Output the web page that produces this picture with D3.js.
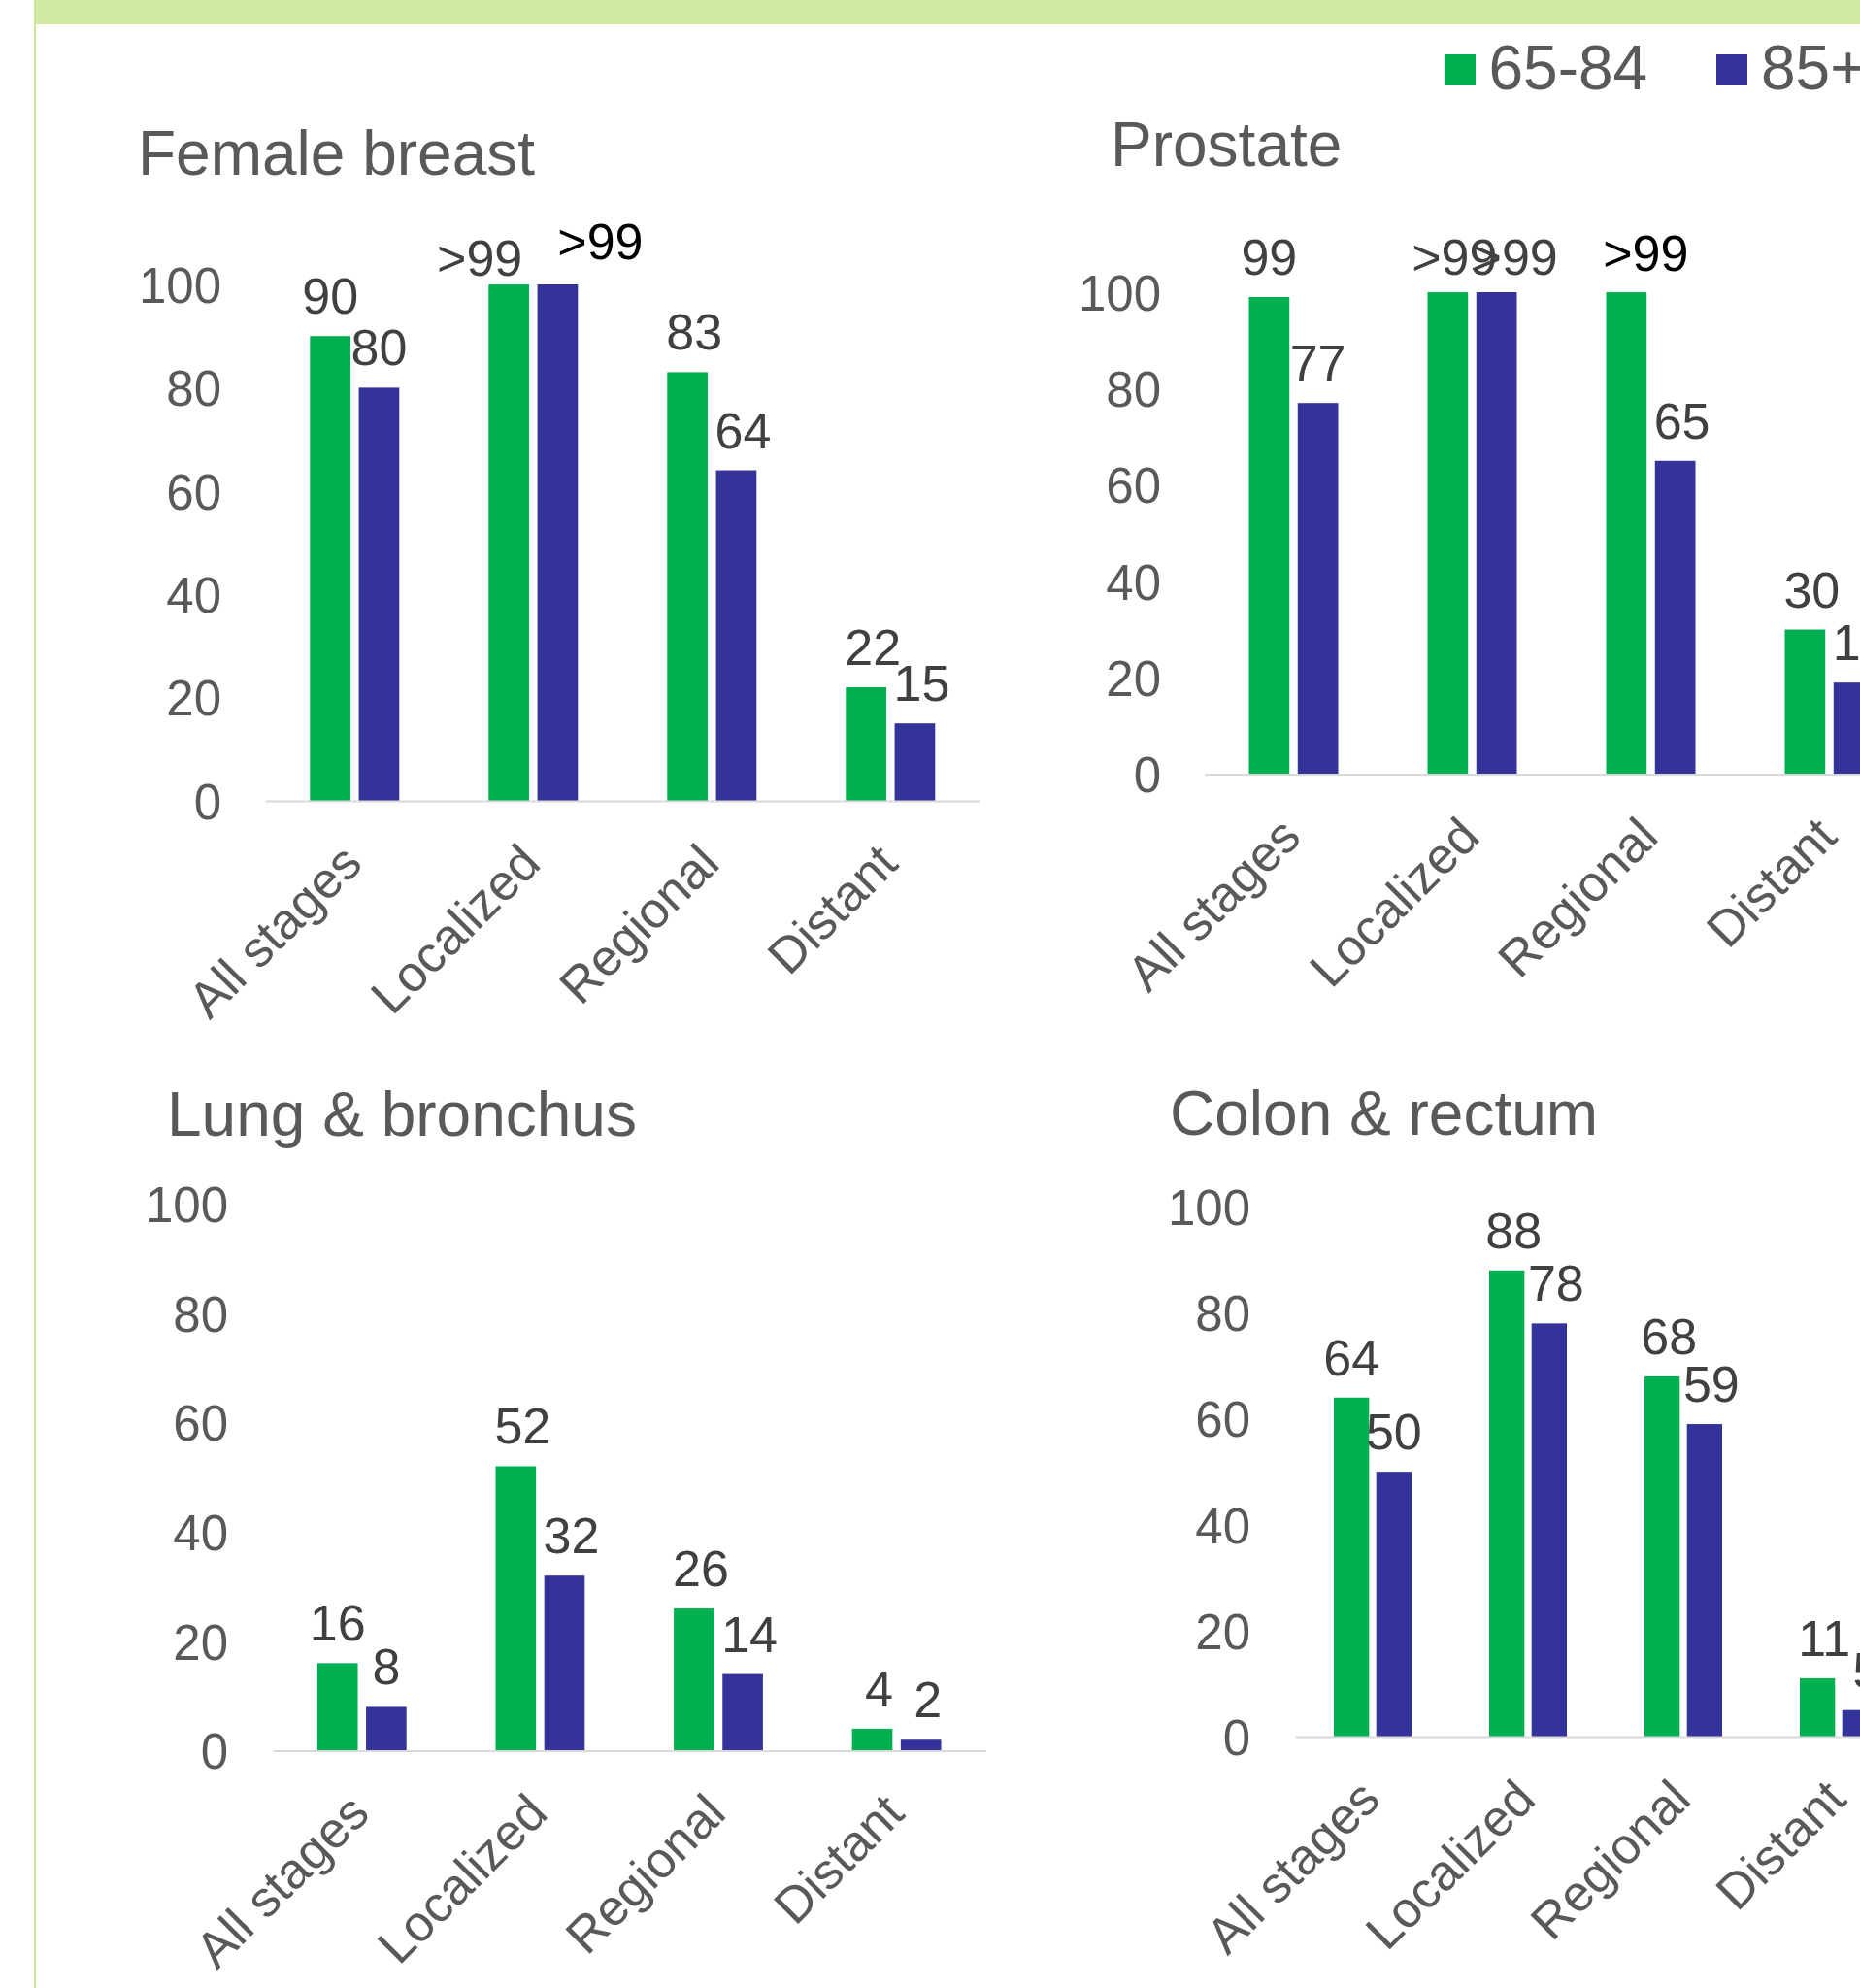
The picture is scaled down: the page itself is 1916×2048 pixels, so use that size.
<!DOCTYPE html>
<html><head><meta charset="utf-8">
<script src="https://cdn.jsdelivr.net/npm/d3@7"></script>
<style>html,body{margin:0;padding:0;background:#fff;} svg{display:block;}</style>
</head><body>
<svg id="chart" width="1916" height="2048"></svg>
<script>
// ---------- data ----------
const categories = ["All stages", "Localized", "Regional", "Distant"];
const seriesNames = ["65-84", "85+"];
const yTicks = [0, 20, 40, 60, 80, 100];
const panelTitles = ["Female breast", "Prostate", "Lung & bronchus", "Colon & rectum"];
const breast6584 = [90, 100, 83, 22];
const breast85 = [80, 100, 64, 15];
const prostate6584 = [99, 100, 100, 30];
const prostate85 = [77, 100, 65, 19];
const lung6584 = [16, 52, 26, 4];
const lung85 = [8, 32, 14, 2];
const colon6584 = [64, 88, 68, 11];
const colon85 = [50, 78, 59, 5];
const panelData = [[breast6584, breast85], [prostate6584, prostate85], [lung6584, lung85], [colon6584, colon85]];
const fmt = v => v >= 100 ? ">99" : String(v);

// ---------- style / layout ----------
const colors = ["#00b050", "#333399"];
const FONT = "'Liberation Sans', Arial, Helvetica, sans-serif";
const layouts = [
  {titleX: 142, titleY: 180, xStart: 273.3, xEnd: 1009.3, y0: 825, y100: 293, tickRight: 228},
  {titleX: 1144, titleY: 171, xStart: 1240.5, xEnd: 1976.5, y0: 797.5, y100: 301, tickRight: 1196},
  {titleX: 172, titleY: 1170, xStart: 281, xEnd: 1015.4, y0: 1803.5, y100: 1240, tickRight: 235},
  {titleX: 1205, titleY: 1169, xStart: 1334, xEnd: 1974, y0: 1789, y100: 1243.3, tickRight: 1288}
];
// manual label placement tweaks: key "panel-series-category"
const labelTweaks = {
  "0-0-1": {dx: -30, dy: -9},
  "0-1-1": {dx: 44, dy: -26, color: "#000"},
  "1-0-1": {dx: 7, dy: -18},
  "1-1-1": {dx: 19, dy: -18},
  "1-0-2": {dx: 20, dy: -22, color: "#000"}
};

const svg = d3.select("#chart");

// frame
svg.append("rect").attr("x", 35).attr("y", 0).attr("width", 1916 - 35).attr("height", 25).attr("fill", "#d1e9a2");
svg.append("line").attr("x1", 36).attr("x2", 36).attr("y1", 0).attr("y2", 2048)
  .attr("stroke", "#cbe59a").attr("stroke-width", 2);

// legend
const legendItems = [
  {rx: 1488, tx: 1533.5},
  {rx: 1768, tx: 1814}
];
seriesNames.forEach((s, i) => {
  svg.append("rect").attr("x", legendItems[i].rx).attr("y", 56).attr("width", 32).attr("height", 32).attr("fill", colors[i]);
  svg.append("text").attr("x", legendItems[i].tx).attr("y", 92)
    .attr("font-family", FONT).attr("font-size", 64).attr("fill", "#595959").text(s);
});

panelTitles.forEach((title, p) => {
  const L = layouts[p];
  const g = svg.append("g");
  const x = d3.scaleBand().domain(categories).range([L.xStart, L.xEnd]).paddingInner(0).paddingOuter(0);
  const bw = x.bandwidth();
  const xs = d3.scaleBand().domain(seriesNames).range([bw * 0.25, bw * 0.75]).paddingInner(0.17);
  const y = d3.scaleLinear().domain([0, 100]).range([L.y0, L.y100]);

  // title
  g.append("text").attr("x", L.titleX).attr("y", L.titleY)
    .attr("font-family", FONT).attr("font-size", 64).attr("fill", "#595959").text(title);

  // y axis (labels only)
  const ya = g.append("g").attr("transform", `translate(${L.tickRight},0)`)
    .call(d3.axisLeft(y).tickValues(yTicks).tickSize(0).tickPadding(0).tickFormat(d3.format("d")));
  ya.select(".domain").remove();
  ya.selectAll("text").attr("font-family", FONT).attr("font-size", 51).attr("fill", "#595959")
    .attr("dy", "0.36em").attr("x", 0);
  ya.attr("font-family", null).attr("font-size", null);

  // bars
  const rows = [];
  categories.forEach((c, ci) => seriesNames.forEach((s, si) => rows.push({c, ci, s, si, v: panelData[p][si][ci]})));
  g.selectAll("rect.bar").data(rows).enter().append("rect").attr("class", "bar")
    .attr("x", d => x(d.c) + xs(d.s))
    .attr("width", xs.bandwidth())
    .attr("y", d => y(d.v))
    .attr("height", d => y(0) - y(d.v))
    .attr("fill", d => colors[d.si]);

  // x axis
  const xa = g.append("g").attr("transform", `translate(0,${L.y0})`)
    .call(d3.axisBottom(x).tickSize(0).tickSizeOuter(0));
  xa.select(".domain").attr("stroke", "#d9d9d9").attr("stroke-width", 2);
  xa.selectAll("text").attr("font-family", FONT).attr("font-size", 52).attr("fill", "#595959")
    .attr("x", 0).attr("y", 0).attr("dy", 0)
    .attr("transform", "translate(10,67) rotate(-45)")
    .style("text-anchor", "end");
  xa.attr("font-family", null).attr("font-size", null);

  // data labels
  g.selectAll("text.lbl").data(rows).enter().append("text").attr("class", "lbl")
    .attr("x", d => {
      const t = labelTweaks[`${p}-${d.si}-${d.ci}`];
      const dx = t ? t.dx : (d.ci === 0 ? 0 : 7);
      return x(d.c) + xs(d.s) + xs.bandwidth() / 2 + dx;
    })
    .attr("y", d => {
      const t = labelTweaks[`${p}-${d.si}-${d.ci}`];
      return y(d.v) + (t ? t.dy : -23);
    })
    .attr("text-anchor", "middle")
    .attr("font-family", FONT).attr("font-size", 52)
    .attr("fill", d => {
      const t = labelTweaks[`${p}-${d.si}-${d.ci}`];
      return t && t.color ? t.color : "#404040";
    })
    .text(d => fmt(d.v));
});
</script>
</body></html>
